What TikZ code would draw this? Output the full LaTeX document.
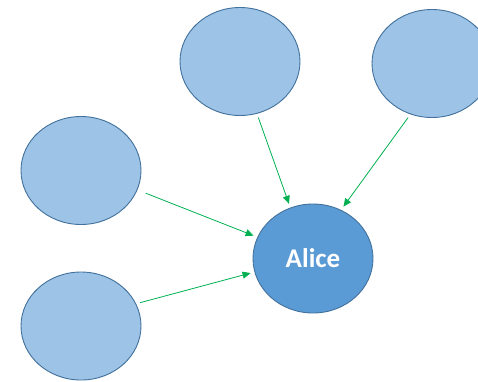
\documentclass[tikz,border=0pt]{standalone}
\usepackage{fontspec}
\setsansfont{Carlito}
\usepackage{xcolor}
\usetikzlibrary{arrows.meta}
\usetikzlibrary{shapes.geometric}

\definecolor{lightblue}{HTML}{9DC3E6}
\definecolor{midblue}{HTML}{5B9BD5}
\definecolor{edgeblue}{HTML}{41719C}
\definecolor{arrowgreen}{HTML}{00B050}

\begin{document}
\begin{tikzpicture}[x=1pt,y=-1pt]
\tikzset{>={Triangle[width=7pt,length=8pt]}}
\tikzstyle{person} =[ellipse, draw=edgeblue, line width=0.9pt, fill=lightblue, minimum width=120pt, minimum height=108pt, inner sep=0pt]
\tikzstyle{trust} =[->, arrowgreen, line width=0.8pt, shorten <=4pt, shorten >=4pt]

\useasboundingbox (0,0) rectangle (478,381);

\node[person](v1) at (240,61.5){};
\node[person](v2) at (432,63.5){};
\node[person](v3) at (81,170.5){};
\node[person](v4) at (81,326){};
\node[person,fill=midblue,minimum height=109pt,text=white,font=\sffamily\bfseries\fontsize{27}{32}\selectfont](alice) at (313,258.5){Alice};

\draw [trust] (v1.-72) to (alice.114);
\draw [trust] (v2.247) to (alice.60);
\draw [trust,shorten <=9pt] (v3.-19) to (alice.159);
\draw [trust] (v4.22) to (alice.193);
\end{tikzpicture}
\end{document}
